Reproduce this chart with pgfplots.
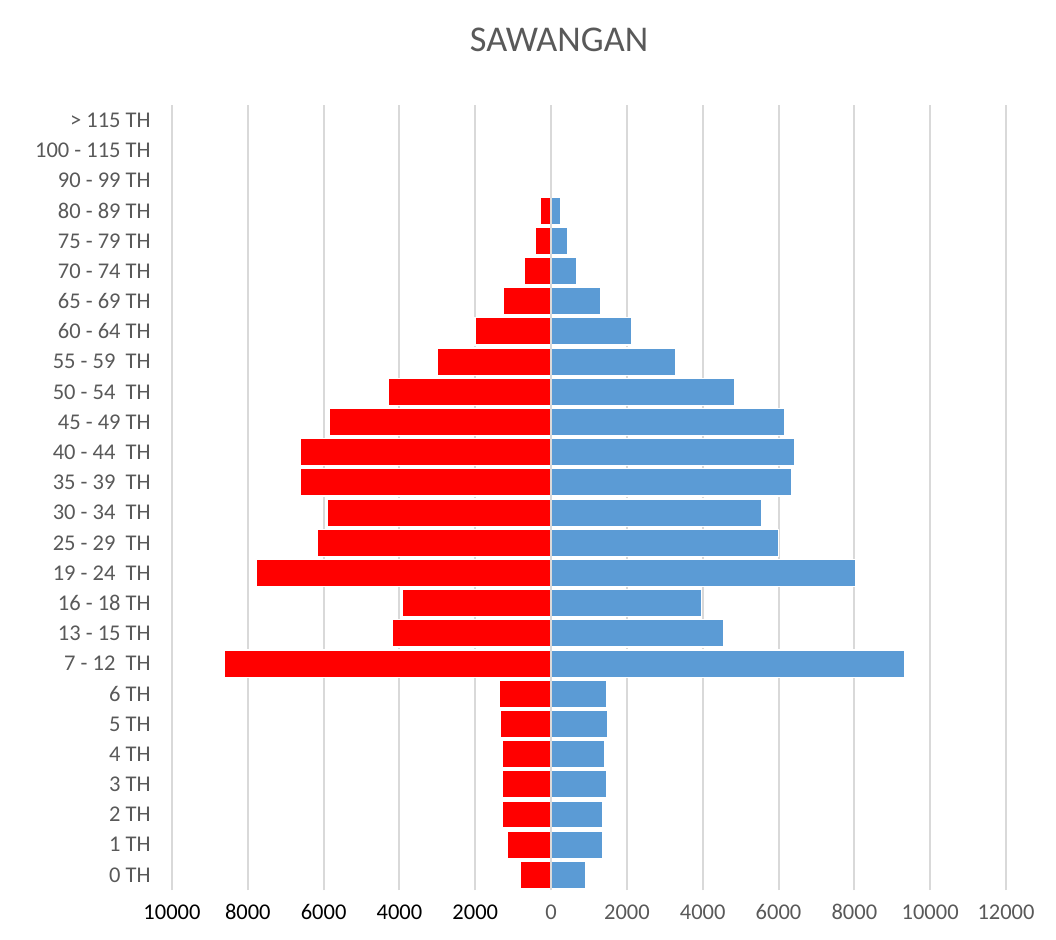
\documentclass[border=0pt]{standalone}
\usepackage{fontspec}
\setmainfont{Carlito}
\usepackage{pgfplots}
\pgfplotsset{compat=1.18}
\definecolor{txt}{HTML}{595959}
\definecolor{gridc}{HTML}{D9D9D9}
\definecolor{femred}{HTML}{FF0000}
\definecolor{maleblue}{HTML}{5B9BD5}

\begin{document}
\begin{tikzpicture}
  \begin{axis}[
      xbar, bar shift=0pt,
      scale only axis,
      width=333.6pt, height=314pt,
      xmin=-10000, xmax=12000,
      ymin=-0.5, ymax=25.5,
      bar width=0.9,
      xtick={-10000,-8000,...,12000},
      xticklabels={\color{black}10000,\color{black}8000,\color{black}6000,\color{black}4000,\color{black}2000,0,2000,4000,6000,8000,10000,12000},
      ytick={0,...,25},
      yticklabels={0 TH,1 TH,2 TH,3 TH,4 TH,5 TH,6 TH,7 - 12~ TH,13 - 15 TH,16 - 18 TH,19 - 24~ TH,25 - 29~ TH,30 - 34~ TH,35 - 39~ TH,40 - 44~ TH,45 - 49 TH,50 - 54~ TH,55 - 59~ TH,60 - 64 TH,65 - 69 TH,70 - 74 TH,75 - 79 TH,80 - 89 TH,90 - 99 TH,100 - 115 TH,> 115 TH},
      major tick length=0pt,
      axis line style={draw=none},
      xmajorgrids=true,
      grid style={gridc, line width=0.8pt},
      tick label style={font=\fontsize{9}{10}\selectfont, text=txt},
      yticklabel style={xshift=-5pt},
      xticklabel style={yshift=-3pt, text height=1.6ex, text depth=0pt, inner sep=1pt, anchor=north},
      title={SAWANGAN},
      title style={at={(0.464,1.0637)}, anchor=center, font=\fontsize{14.5}{16}\selectfont, text=txt},
    ]
    % perempuan (kiri)
    \addplot[fill=femred, draw=white, line width=0.5pt] coordinates {
      (-813,0) (-1158,1) (-1280,2) (-1280,3) (-1280,4) (-1343,5) (-1370,6)
      (-8624,7) (-4185,8) (-3931,9) (-7770,10) (-6166,11) (-5913,12)
      (-6605,13) (-6615,14) (-5860,15) (-4280,16) (-3000,17) (-2005,18)
      (-1253,19) (-715,20) (-415,21) (-290,22) (-30,23) (0,24) (0,25)};
    % laki-laki (kanan)
    \addplot[fill=maleblue, draw=white, line width=0.5pt] coordinates {
      (919,0) (1351,1) (1367,2) (1457,3) (1404,4) (1483,5) (1457,6)
      (9319,7) (4563,8) (3974,9) (8043,10) (6008,11) (5551,12)
      (6333,13) (6423,14) (6167,15) (4838,16) (3293,17) (2120,18)
      (1306,19) (680,20) (430,21) (240,22) (0,23) (0,24) (0,25)};
    \draw[gridc, line width=0.8pt] (axis cs:0,-0.5) -- (axis cs:0,25.5);
  \end{axis}
  \pgfresetboundingbox
  \path[use as bounding box] (-68.8pt,-19.6pt) rectangle (353.6pt,356pt);
\end{tikzpicture}
\end{document}
